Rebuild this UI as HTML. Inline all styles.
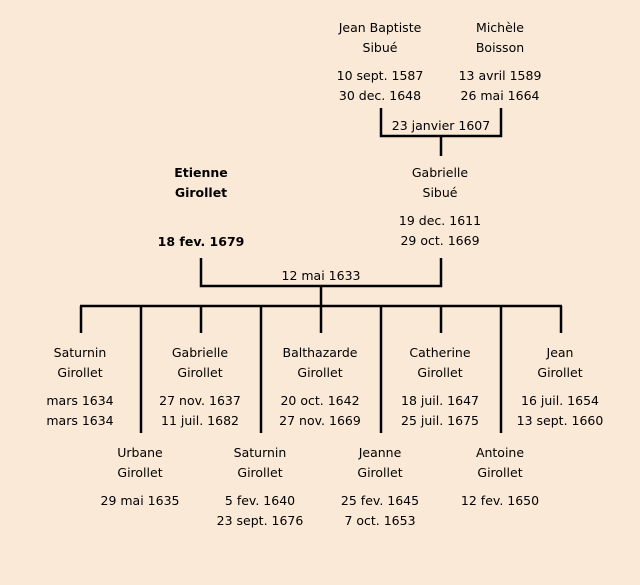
<!DOCTYPE html>
<html><head><meta charset="utf-8"><style>
html,body{margin:0;padding:0;background:#fbe9d7;}
svg{display:block}
text{font-family:"DejaVu Sans","Liberation Sans",sans-serif;font-size:12.5px;fill:#000;text-anchor:middle;}
.b{font-weight:bold}
</style></head><body>
<svg width="640" height="585" viewBox="0 0 640 585">
<rect width="640" height="585" fill="#fbe9d7"/>
<g stroke="#000" stroke-width="2.5" fill="none">
<path d="M381 108V136H501V108M441 136V156"/>
<path d="M201 258V286H441V258M321 286V305"/>
<path d="M80 306H562"/>
<path d="M81 306V333M201 306V333M321 306V333M441 306V333M561 306V333"/>
<path d="M141 306V433M261 306V433M381 306V433M501 306V433"/>
</g>
<g>
<text x="380" y="32">Jean Baptiste</text><text x="380" y="52">Sibué</text>
<text x="380" y="80">10 sept. 1587</text><text x="380" y="100">30 dec. 1648</text>
<text x="500" y="32">Michèle</text><text x="500" y="52">Boisson</text>
<text x="500" y="80">13 avril 1589</text><text x="500" y="100">26 mai 1664</text>
<text x="441" y="130">23 janvier 1607</text>
<text class="b" x="201" y="177">Etienne</text><text class="b" x="201" y="197">Girollet</text>
<text class="b" x="201" y="246">18 fev. 1679</text>
<text x="440" y="177">Gabrielle</text><text x="440" y="197">Sibué</text>
<text x="440" y="225">19 dec. 1611</text><text x="440" y="245">29 oct. 1669</text>
<text x="321" y="280">12 mai 1633</text>

<text x="80" y="357">Saturnin</text><text x="80" y="377">Girollet</text><text x="80" y="405">mars 1634</text><text x="80" y="425">mars 1634</text>
<text x="200" y="357">Gabrielle</text><text x="200" y="377">Girollet</text><text x="200" y="405">27 nov. 1637</text><text x="200" y="425">11 juil. 1682</text>
<text x="320" y="357">Balthazarde</text><text x="320" y="377">Girollet</text><text x="320" y="405">20 oct. 1642</text><text x="320" y="425">27 nov. 1669</text>
<text x="440" y="357">Catherine</text><text x="440" y="377">Girollet</text><text x="440" y="405">18 juil. 1647</text><text x="440" y="425">25 juil. 1675</text>
<text x="560" y="357">Jean</text><text x="560" y="377">Girollet</text><text x="560" y="405">16 juil. 1654</text><text x="560" y="425">13 sept. 1660</text>

<text x="140" y="457">Urbane</text><text x="140" y="477">Girollet</text><text x="140" y="505">29 mai 1635</text>
<text x="260" y="457">Saturnin</text><text x="260" y="477">Girollet</text><text x="260" y="505">5 fev. 1640</text><text x="260" y="525">23 sept. 1676</text>
<text x="380" y="457">Jeanne</text><text x="380" y="477">Girollet</text><text x="380" y="505">25 fev. 1645</text><text x="380" y="525">7 oct. 1653</text>
<text x="500" y="457">Antoine</text><text x="500" y="477">Girollet</text><text x="500" y="505">12 fev. 1650</text>
</g>
</svg>
</body></html>
